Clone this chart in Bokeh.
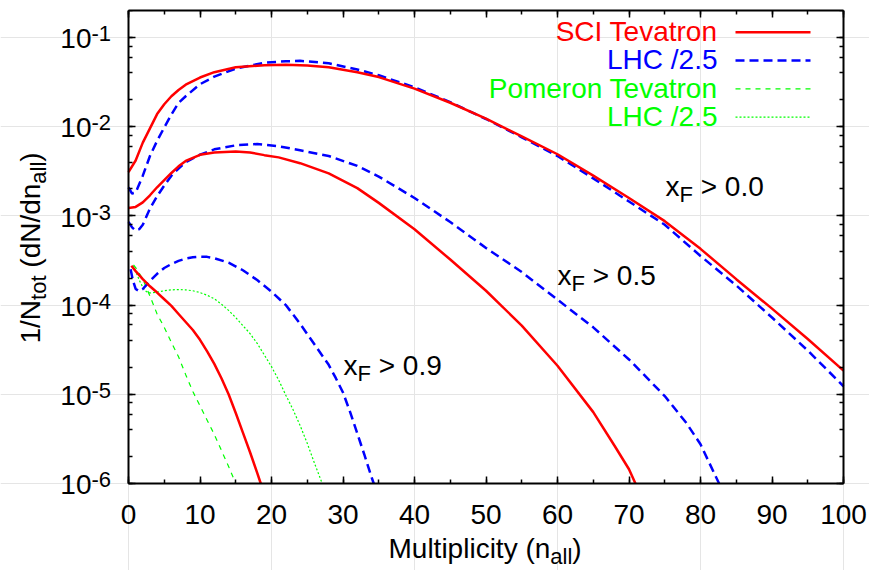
from math import log10, pi

from bokeh.plotting import figure
from bokeh.models import (Range1d, LinearAxis, LogAxis, LogTicker, SingleIntervalTicker,
                          CustomJSTickFormatter, Label, Arrow)
from bokeh.embed import file_html
from bokeh.resources import INLINE

# ---------------- data (log10 of 1/N_tot dN/dn_all) ----------------
sci_tev_xf00_n = [0, 1, 2, 3, 4, 5, 6, 7, 8, 10, 12, 15, 19, 22, 25, 28, 32, 35, 40, 45, 50,
                  55, 60, 65, 70, 75, 80, 85, 90, 95, 100]
sci_tev_xf00_lg = [-2.51, -2.38, -2.18, -2.02, -1.86, -1.75, -1.66, -1.59, -1.53, -1.45, -1.39,
                   -1.335, -1.312, -1.308, -1.315, -1.336, -1.39, -1.445, -1.575, -1.733, -1.91,
                   -2.11, -2.31, -2.55, -2.80, -3.06, -3.37, -3.71, -4.04, -4.38, -4.735]

lhc_xf00_n = [0, 0.5, 1, 2, 3, 4, 5, 6, 7, 8, 10, 12, 15, 19, 22, 24, 28, 32, 35, 40, 45, 50,
              55, 60, 65, 70, 75, 80, 85, 90, 95, 100]
lhc_xf00_lg = [-2.68, -2.75, -2.74, -2.55, -2.33, -2.16, -2.01, -1.865, -1.735, -1.66, -1.525,
               -1.44, -1.35, -1.285, -1.268, -1.263, -1.29, -1.36, -1.425, -1.56, -1.725, -1.915,
               -2.12, -2.33, -2.58, -2.84, -3.10, -3.45, -3.78, -4.14, -4.51, -4.91]

sci_tev_xf05_n = [0, 1, 2, 3, 4, 5, 6, 7, 8, 10, 12, 15, 17, 19, 21, 24, 28, 32, 35, 40, 45, 50,
                  55, 60, 65, 68, 70, 70.9]
sci_tev_xf05_lg = [-2.913, -2.90, -2.85, -2.77, -2.68, -2.60, -2.52, -2.445, -2.385, -2.316,
                   -2.29, -2.28, -2.29, -2.32, -2.345, -2.41, -2.525, -2.69, -2.855, -3.15, -3.49,
                   -3.84, -4.23, -4.68, -5.20, -5.58, -5.84, -6.0]

lhc_xf05_n = [0, 0.5, 1, 1.5, 2, 3, 4, 5, 6, 7, 8, 10, 12, 15, 18, 21, 24, 28, 32, 35, 40, 45,
              50, 55, 60, 65, 70, 75, 78, 80, 82, 82.6]
lhc_xf05_lg = [-3.07, -3.13, -3.165, -3.15, -3.10, -2.92, -2.78, -2.66, -2.55, -2.47, -2.40,
               -2.315, -2.255, -2.21, -2.195, -2.22, -2.265, -2.33, -2.44, -2.56, -2.80, -3.07,
               -3.36, -3.63, -3.94, -4.25, -4.61, -5.02, -5.32, -5.56, -5.90, -6.0]

sci_tev_xf09_n = [0.4, 1, 2, 3, 4, 5, 6, 7, 8, 9, 10, 11, 12, 13, 14, 15, 16, 17, 18, 18.5]
sci_tev_xf09_lg = [-3.56, -3.62, -3.71, -3.79, -3.86, -3.935, -4.01, -4.10, -4.19, -4.28, -4.39,
                   -4.52, -4.66, -4.82, -5.00, -5.21, -5.43, -5.65, -5.88, -6.0]

lhc_xf09_n = [0.3, 0.6, 1, 1.5, 2, 3, 4, 5, 6, 7, 8, 9, 10, 11, 12, 14, 16, 18, 20, 22, 24, 26,
              28, 29, 30, 31, 32, 33, 34, 34.3]
lhc_xf09_lg = [-3.60, -3.72, -3.82, -3.845, -3.82, -3.73, -3.65, -3.585, -3.54, -3.505, -3.48,
               -3.465, -3.458, -3.46, -3.475, -3.525, -3.61, -3.72, -3.85, -4.00, -4.21, -4.44,
               -4.67, -4.82, -4.98, -5.20, -5.44, -5.68, -5.93, -6.0]

pom_tev_n = [0.7, 1, 2, 3, 4, 5, 6, 7, 8, 9, 10, 11, 12, 13, 14, 15]
pom_tev_lg = [-3.55, -3.58, -3.71, -3.90, -4.10, -4.25, -4.42, -4.58, -4.78, -4.97, -5.13,
              -5.29, -5.45, -5.63, -5.81, -6.0]

pom_lhc_n = [0.7, 1, 1.5, 2, 2.5, 3, 4, 5, 6, 7, 8, 9, 10, 11, 12, 13, 14, 15, 16, 17, 18, 19,
             20, 21, 22, 23, 24, 25, 26, 27, 27.1]
pom_lhc_lg = [-3.56, -3.62, -3.72, -3.80, -3.85, -3.865, -3.855, -3.84, -3.83, -3.826, -3.83,
              -3.84, -3.86, -3.89, -3.93, -3.99, -4.06, -4.14, -4.23, -4.32, -4.43, -4.56, -4.69,
              -4.84, -5.01, -5.17, -5.35, -5.55, -5.77, -5.98, -6.0]

legend_labels = ["SCI Tevatron", "LHC /2.5", "Pomeron Tevatron", "LHC /2.5"]
region_labels = ["0.0", "0.5", "0.9"]
y_tick_exponents = [-6, -5, -4, -3, -2, -1]

X_MIN, X_MAX = 0, 100
Y_MIN, Y_MAX = 1e-6, 0.2

# ---------------- layout / style ----------------
W, H = 869, 570
BOX_L, BOX_R, BOX_T, BOX_B = 128, 843, 10, 483       # plotting box (axes) in page pixels
FONT = "Liberation Sans"
MAIN, SMALL = 28, 22
RED, BLUE, GREEN = "#ff0000", "#0000ff", "#00ff00"
DASH_BLUE, DASH_GREEN, DOT_GREEN = "9 5", "5 5", "2 2"

LO, HI = log10(Y_MIN), log10(Y_MAX)
PX_PER_X = (BOX_R - BOX_L) / (X_MAX - X_MIN)
PX_PER_DEC = (BOX_B - BOX_T) / (HI - LO)

# The frame reaches the left, right and bottom page edges so that tick labels and axis
# titles (text annotations) are not clipped; the real axes sit on the box edges.
x_start = X_MIN - BOX_L / PX_PER_X
x_end = X_MAX + (W - BOX_R) / PX_PER_X
y_start = 10 ** (LO - (H - BOX_B) / PX_PER_DEC)

p = figure(width=W, height=H, x_range=Range1d(x_start, x_end), y_range=Range1d(y_start, Y_MAX),
           y_axis_type="log", x_axis_location=None, y_axis_location=None,
           output_backend="svg", toolbar_location=None, title=None,
           min_border_left=0, min_border_right=0,
           min_border_top=BOX_T, min_border_bottom=0)
p.background_fill_color = "white"
p.border_fill_color = "white"
p.outline_line_color = None

blank = CustomJSTickFormatter(code="return ''")


def style_axis(ax, labels):
    ax.axis_line_width = 2
    ax.axis_line_color = "black"
    ax.major_tick_in = 7
    ax.major_tick_out = 0
    ax.minor_tick_in = 4
    ax.minor_tick_out = 0
    ax.major_tick_line_width = 1.5
    ax.minor_tick_line_width = 1.5
    ax.major_tick_line_color = "black"
    ax.minor_tick_line_color = "black"
    if labels:
        ax.major_label_text_font = FONT
        ax.major_label_text_font_size = f"{MAIN}px"
        ax.major_label_text_color = "black"
        ax.major_label_standoff = 21
    else:
        ax.formatter = blank
        ax.major_label_text_font_size = "1px"
        ax.major_label_text_color = None
        ax.major_label_standoff = 0


xb = LinearAxis(ticker=SingleIntervalTicker(interval=10, num_minor_ticks=2),
                fixed_location=Y_MIN, bounds=(X_MIN, X_MAX))
style_axis(xb, True)
p.add_layout(xb, "below")
yl = LogAxis(ticker=LogTicker(desired_num_ticks=6), fixed_location=X_MIN, bounds=(Y_MIN, Y_MAX))
style_axis(yl, False)
p.add_layout(yl, "left")
xt = LinearAxis(ticker=SingleIntervalTicker(interval=10, num_minor_ticks=2),
                bounds=(X_MIN, X_MAX))
style_axis(xt, False)
p.add_layout(xt, "above")
yr = LogAxis(ticker=LogTicker(desired_num_ticks=6), fixed_location=X_MAX, bounds=(Y_MIN, Y_MAX))
style_axis(yr, False)
p.add_layout(yr, "right")


def to_val(lg):
    return [10 ** v for v in lg]


# ---------------- curves ----------------
p.line(pom_tev_n, to_val(pom_tev_lg), line_color=GREEN, line_width=1.2, line_dash=DASH_GREEN)
p.line(pom_lhc_n, to_val(pom_lhc_lg), line_color=GREEN, line_width=1.2, line_dash=DOT_GREEN)
for xs, lg in [(lhc_xf00_n, lhc_xf00_lg), (lhc_xf05_n, lhc_xf05_lg), (lhc_xf09_n, lhc_xf09_lg)]:
    p.line(xs, to_val(lg), line_color=BLUE, line_width=2.5, line_dash=DASH_BLUE)
for xs, lg in [(sci_tev_xf00_n, sci_tev_xf00_lg), (sci_tev_xf05_n, sci_tev_xf05_lg),
               (sci_tev_xf09_n, sci_tev_xf09_lg)]:
    p.line(xs, to_val(lg), line_color=RED, line_width=2.5)

# ---------------- text helpers ----------------
CW = {' ': .278, '(': .333, ')': .333, '/': .278, '.': .278, '-': .333, '>': .584,
      'M': .833, 'N': .722, 'F': .611, 'a': .556, 'c': .5, 'd': .556, 'i': .222, 'l': .222,
      'n': .556, 'o': .556, 'p': .556, 't': .278, 'u': .556, 'x': .5, 'y': .5}
BASE_TO_ANCHOR = 0.3465   # "middle" anchor sits this many em above the alphabetic baseline


def tw(s, size):
    return sum(CW.get(c, .556) for c in s) * size


def px_to_x(px):
    return X_MIN + (px - BOX_L) / PX_PER_X


def py_to_y(py):
    return 10 ** (HI - (py - BOX_T) / PX_PER_DEC)


def y_to_py(y):
    return BOX_T + (HI - log10(y)) * PX_PER_DEC


def label(px, py, text, size, color="black", align="left", angle=0.0):
    """px, py: where the text's alphabetic baseline should sit (page pixels)."""
    d = BASE_TO_ANCHOR * size
    if angle == 0:
        ax_, ay_ = px, py - d
    else:                       # rotated 90 deg: baseline "up" is towards -x on the page
        ax_, ay_ = px - d, py
    p.add_layout(Label(x=px_to_x(ax_), y=py_to_y(ay_), text=text, angle=angle,
                       text_font=FONT, text_font_size=f"{size}px", text_color=color,
                       text_align=align, text_baseline="middle"))


SHIFT = {"n": 0, "sub": 6, "sup": -7}


def rich(px, py, pieces, angle=0.0, color="black"):
    pos = 0.0
    for text, kind in pieces:
        size = MAIN if kind == "n" else SMALL
        stripped = text.lstrip(" ")
        lead = tw(text[:len(text) - len(stripped)], size)
        if angle == 0:
            label(px + pos + lead, py + SHIFT[kind], stripped, size, color)
        else:
            label(px + SHIFT[kind], py - pos - lead, stripped, size, color, angle=angle)
        pos += tw(text, size)


# y tick labels 10^e
for e in y_tick_exponents:
    tpy = y_to_py(10.0 ** e)
    rich(91 - tw("10", MAIN), tpy + 11, [("10", "n"), (str(e), "sup")])

# axis titles
rich(388, 558, [("Multiplicity (n", "n"), ("all", "sub"), (")", "n")])
rich(40, 343, [("1/N", "n"), ("tot", "sub"), (" (dN/dn", "n"), ("all", "sub"), (")", "n")],
     angle=pi / 2)

# region annotations
for txt, (px, py) in zip(region_labels, [(665, 196), (557, 285), (343, 375)]):
    rich(px, py, [("x", "n"), ("F", "sub"), (" > " + txt, "n")])

# legend (text right-aligned, sample line to the right)
legend_styles = [(RED, 2.5, "solid"), (BLUE, 2.5, DASH_BLUE), (GREEN, 1.2, DASH_GREEN),
                 (GREEN, 1.2, DOT_GREEN)]
for i, (txt, (col, lw, dash)) in enumerate(zip(legend_labels, legend_styles)):
    row = 31.7 + i * 28.3
    label(717, row + 9, txt, MAIN, col, align="right")
    p.add_layout(Arrow(x_start=px_to_x(735), y_start=py_to_y(row), x_end=px_to_x(810),
                       y_end=py_to_y(row), start=None, end=None, line_color=col,
                       line_width=lw, line_dash=dash))

open("out.html", "w").write(file_html(p, INLINE))
